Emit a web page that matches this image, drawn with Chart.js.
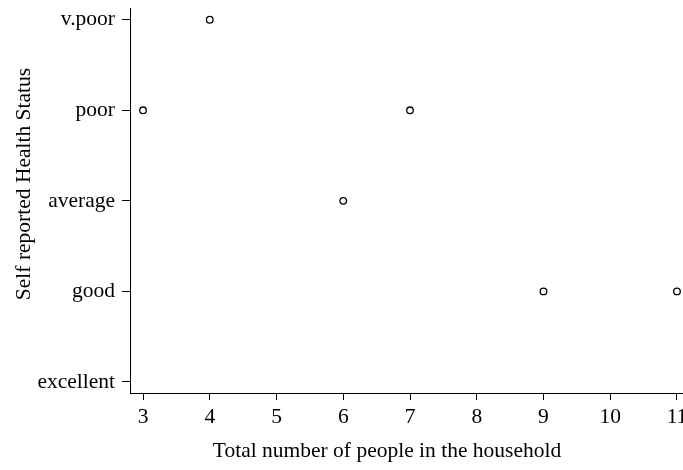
<!DOCTYPE html>
<html>
<head>
<meta charset="utf-8">
<script src="https://cdn.jsdelivr.net/npm/chart.js@4"></script>
<style>
body{margin:0;background:#fff}
</style>
</head>
<body>
<canvas id="myChart" width="683" height="470"></canvas>
<script>
// household size vs self reported health (1 = excellent ... 5 = v.poor)
const household = [3, 4, 6, 7, 9, 11]
const health = [4, 5, 3, 4, 2, 2]
const healthLabels = ['excellent', 'good', 'average', 'poor', 'v.poor']
const xTicks = [3, 4, 5, 6, 7, 8, 9, 10, 11]
const yTicks = [1, 2, 3, 4, 5]

const fontFam = '"Liberation Serif", "Times New Roman", serif'
const fontSize = 21.5

const pts = household.map((v, i) => ({x: v, y: health[i]}))

// axis titles, placed like the original plot
const titles = {
  id: 'titles',
  afterDraw(chart) {
    const c = chart.ctx
    c.save()
    c.fillStyle = '#000'
    c.font = fontSize + 'px ' + fontFam
    c.textAlign = 'center'
    c.textBaseline = 'alphabetic'
    c.fillText('Total number of people in the household', 387, 457)
    c.translate(30, 184)
    c.rotate(-Math.PI / 2)
    c.fillText('Self reported Health Status', 0, 0)
    c.restore()
  }
}

new Chart(document.getElementById('myChart'), {
  type: 'scatter',
  data: {
    datasets: [{
      data: pts,
      pointStyle: 'circle',
      pointRadius: 3.3,
      pointBorderWidth: 1.3,
      borderColor: '#000',
      backgroundColor: 'rgba(0,0,0,0)'
    }]
  },
  options: {
    responsive: false,
    animation: false,
    clip: false,
    layout: {autoPadding: false, padding: {top: 8, right: 0, left: 0, bottom: 0}},
    plugins: {legend: {display: false}, tooltip: {enabled: false}},
    scales: {
      x: {
        type: 'linear',
        min: 2.805,
        max: 11.09,
        afterBuildTicks: s => { s.ticks = xTicks.map(v => ({value: v})) },
        afterFit: s => { s.height = 77; s.paddingLeft = 0; s.paddingRight = 0 },
        border: {display: true, color: '#000', width: 1},
        grid: {drawOnChartArea: false, drawTicks: true, tickLength: 7, color: '#000'},
        ticks: {color: '#000', padding: 4, maxRotation: 0, autoSkip: false,
          font: {family: fontFam, size: fontSize}}
      },
      y: {
        type: 'linear',
        min: 0.878,
        max: 5.13,
        afterBuildTicks: s => { s.ticks = yTicks.map(v => ({value: v})) },
        afterFit: s => { s.width = 130; s.paddingTop = 0; s.paddingBottom = 0 },
        border: {display: true, color: '#000', width: 1},
        grid: {drawOnChartArea: false, drawTicks: true, tickLength: 8, color: '#000'},
        ticks: {color: '#000', padding: 7, autoSkip: false,
          font: {family: fontFam, size: fontSize},
          callback: v => healthLabels[v - 1]}
      }
    }
  },
  plugins: [titles]
})
</script>
</body>
</html>
